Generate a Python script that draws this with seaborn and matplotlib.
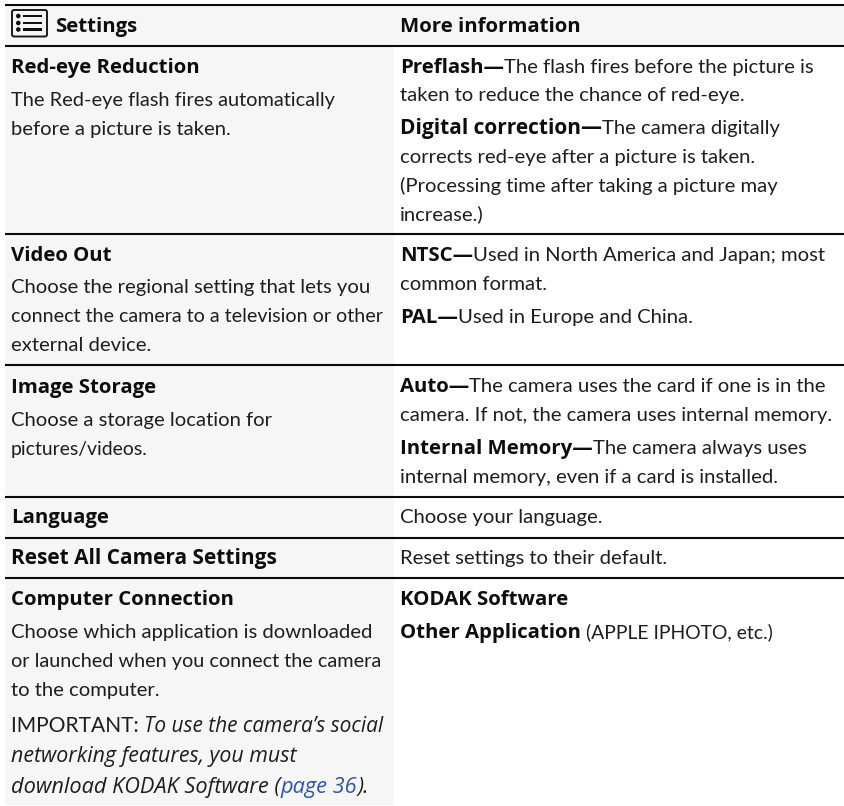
import matplotlib
matplotlib.use("Agg")
import matplotlib.pyplot as plt
import seaborn as sns
from matplotlib.patches import Rectangle, FancyBboxPatch, Circle

W, H = 845, 806
INK = "#1e1e1e"
LINK = "#2f55a6"
SHADE = "#f6f6f6"

# Each line: baseline, list of (text, style)
B, R, I, L = "bold", "regular", "italic", "link"
header = [(0, 32, [("Settings", B)]), (1, 32, [("More information", B)])]
settings_col = [
    (73, [("Red-eye Reduction", B)]),
    (106, [("The Red-eye flash fires automatically", R)]),
    (135, [("before a picture is taken.", R)]),
    (261, [("Video Out", B)]),
    (293, [("Choose the regional setting that lets you", R)]),
    (322, [("connect the camera to a television or other", R)]),
    (351, [("external device.", R)]),
    (393, [("Image Storage", B)]),
    (426, [("Choose a storage location for", R)]),
    (455, [("pictures/videos.", R)]),
    (523, [("Language", B)]),
    (564, [("Reset All Camera Settings", B)]),
    (605, [("Computer Connection", B)]),
    (638, [("Choose which application is downloaded", R)]),
    (667, [("or launched when you connect the camera", R)]),
    (696, [("to the computer.", R)]),
    (732, [("IMPORTANT: ", R), ("To use the camera\u2019s social", I)]),
    (762, [("networking features, you must", I)]),
    (793, [("download KODAK Software (", I), ("page 36", L), (").", I)]),
]
info_col = [
    (73, [("Preflash\u2014", B), ("The flash fires before the picture is", R)]),
    (101, [("taken to reduce the chance of red-eye.", R)]),
    (134, [("Digital correction\u2014", B), ("The camera digitally", R)]),
    (163, [("corrects red-eye after a picture is taken.", R)]),
    (192, [("(Processing time after taking a picture may", R)]),
    (220, [("increase.)", R)]),
    (261, [("NTSC\u2014", B), ("Used in North America and Japan; most", R)]),
    (290, [("common format.", R)]),
    (323, [("PAL\u2014", B), ("Used in Europe and China.", R)]),
    (392, [("Auto\u2014", B), ("The camera uses the card if one is in the", R)]),
    (421, [("camera. If not, the camera uses internal memory.", R)]),
    (454, [("Internal Memory\u2014", B), ("The camera always uses", R)]),
    (483, [("internal memory, even if a card is installed.", R)]),
    (523, [("Choose your language.", R)]),
    (564, [("Reset settings to their default.", R)]),
    (605, [("KODAK Software", B)]),
    (638, [("Other Application ", B), ("(APPLE IPHOTO, etc.)", R)]),
]
rule_rows = [5, 45.5, 234, 365, 497, 538, 578]
col_x = [11, 400]
# per-run font-size nudges so line ends fall where they do in the reference
fit = {
    "The Red-eye flash fires automatically": 0.988,
    "connect the camera to a television or other": 0.97,
    "pictures/videos.": 0.958,
    "or launched when you connect the camera": 0.984,
    "IMPORTANT: ": 1.04,
    "(APPLE IPHOTO, etc.)": 0.96,
    "To use the camera\u2019s social": 0.975,
    "download KODAK Software (": 1.02,
    "page 36": 1.02,
    "Reset All Camera Settings": 1.02,
    "Digital correction\u2014": 1.02,
}

sns.set_theme(style="white", rc={"font.family": ["Lato", "DejaVu Sans"]})
fig = plt.figure(figsize=(W / 100, H / 100), dpi=100, facecolor="white")
ax = fig.add_axes([0, 0, 1, 1])
ax.set_xlim(0, W)
ax.set_ylim(H, 0)
ax.axis("off")

ax.add_patch(Rectangle((5, 5), W - 5, 40, fc=SHADE, ec="none", zorder=0))
ax.add_patch(Rectangle((5, 45), 389, 760, fc=SHADE, ec="none", zorder=0))
ax.hlines(rule_rows, 5, W, color="#0a0a0a", lw=1.5, zorder=2)

renderer = fig.canvas.get_renderer()
STYLE = {
    B: dict(family="Open Sans", fontweight="bold", color="#0d0d0d", size=14.7),
    R: dict(family="Lato", color=INK, size=14.55),
    I: dict(family="Open Sans", fontstyle="italic", color=INK, size=15.4),
    L: dict(family="Open Sans", fontstyle="italic", color=LINK, size=15.4),
}


def put(x, y, runs):
    for text, kind in runs:
        style = dict(STYLE[kind])
        style["size"] *= fit.get(text, 1.0)
        t = ax.text(x, y, text.replace(" ", "\u00a0"), va="baseline", ha="left", **style)
        x = t.get_window_extent(renderer).x1


for col, y, runs in header:
    put(col_x[col] + (44 if col == 0 else 0), y, runs)
for y, runs in settings_col:
    put(col_x[0], y, runs)
for y, runs in info_col:
    put(col_x[1], y, runs)

# list icon in the header
ax.add_patch(FancyBboxPatch((12, 10), 35, 26.5, boxstyle="round,pad=0,rounding_size=2",
                            fc="none", ec="#1a1a1a", lw=1.4))
for yy in (16, 23, 29.5):
    ax.add_patch(Circle((18.3, yy), 2.3, fc="#111111", ec="none"))
    ax.add_patch(Rectangle((23, yy - 1.3), 19, 2.6, fc="#111111", ec="none"))

fig.savefig("out.png", dpi=100)
